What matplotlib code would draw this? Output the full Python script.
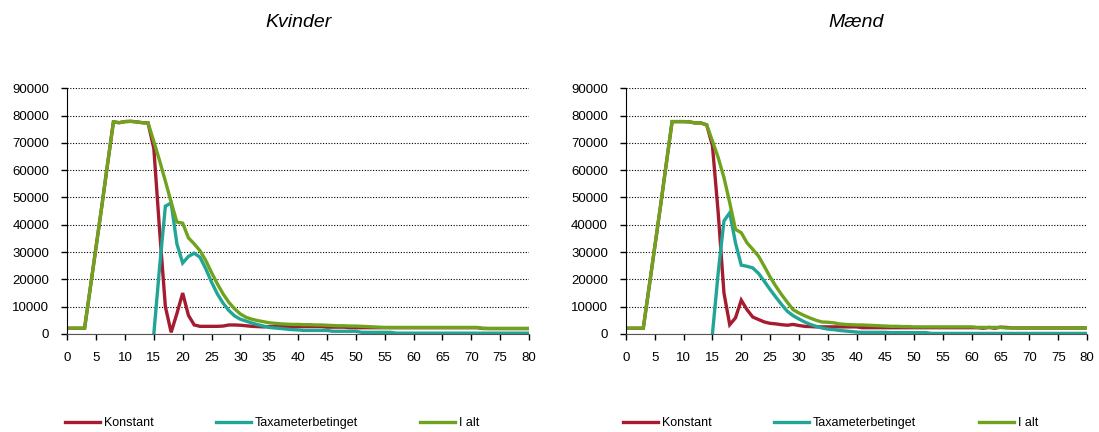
import numpy as np
import matplotlib
matplotlib.use('Agg')
import matplotlib.pyplot as plt

plt.rcParams['font.family'] = ['Liberation Sans', 'DejaVu Sans']

ages = list(range(0, 81))

# Kvinder
kv_konstant = ([2100] * 4 + [17000, 32000, 47000, 62500, 77700, 77400, 77800, 77900, 77700, 77400, 77300,
                             68000, 38000, 10000, 600, 7500, 15000, 6800, 3300, 2800, 2800, 2800, 2800, 2900,
                             3300, 3300, 3200, 3000, 2800, 2700, 2600]
               + [2700] * 10 + [2500] * 4 + [2300] * 23 + [2000] * 9)
kv_taxameter = ([np.nan] * 15 + [0, 24500, 46800, 48000, 33000, 26000, 28400, 29600, 28100, 23900, 19000,
                                 14700, 11300, 8600, 6600, 5400, 4700, 4000, 3400, 2900, 2400, 2200, 2000,
                                 1800, 1600, 1500]
                + [1300] * 5 + [1000] * 5 + [600] * 6 + [300] * 24)
kv_ialt = ([2100] * 4 + [17000, 32000, 47000, 62500, 77700, 77400, 77800, 77900, 77700, 77400, 77300,
                         70500, 63500, 56000, 48300, 41000, 40600, 35200, 33000, 30500, 26900, 22500, 18400,
                         14700, 11600, 9200, 7300, 6100, 5400, 4900, 4500, 4100, 3900, 3700, 3600, 3500,
                         3500, 3400, 3400, 3300, 3300, 3200, 3100, 3000, 3000, 2900, 2900, 2800, 2700,
                         2600, 2500]
           + [2400] * 17 + [2100] + [2000] * 8)

# Mænd
m_konstant = ([2100] * 4 + [17000, 32000, 47000, 62500, 77800, 77800, 77800, 77700, 77300, 77300, 76600,
                            69000, 44400, 15000, 3400, 5900, 12400, 8900, 6200, 5300, 4400, 3900, 3700,
                            3400, 3200, 3500, 3100, 2800, 2700]
              + [2600] * 8 + [2300] * 21 + [2100, 2400, 2100, 2500, 2400] + [2200] * 14)
m_taxameter = ([np.nan] * 15 + [0, 22400, 41400, 44400, 33400, 25200, 24800, 24200, 22200, 19300, 16300,
                                13500, 10800, 8300, 6700, 5500, 4400, 3500, 2800, 2200, 1800, 1600, 1300,
                                1100, 900, 700]
               + [600] * 5 + [500] * 7 + [200] * 28)
m_ialt = ([2100] * 4 + [17000, 32000, 47000, 62500, 77800, 77800, 77800, 77700, 77300, 77300, 76600,
                        70700, 64600, 57300, 48100, 38300, 37100, 33400, 31000, 28500, 24800, 20900, 17500,
                        14400, 11600, 8900, 7700, 6700, 5800, 5000, 4400, 4300, 4100, 3700, 3500, 3400,
                        3300, 3300, 3200, 3100, 3000, 2900, 2800, 2800, 2700, 2700]
          + [2600] * 11 + [2400] * 5 + [2200] * 15)

labels = ['Konstant', 'Taxameterbetinget', 'I alt']
colors = ['#A51C30', '#20A596', '#6FA31E']

fig = plt.figure(figsize=(10.99, 4.32), dpi=100)
ax1 = fig.add_axes([0.0612, 0.2269, 0.4201, 0.5687])
ax2 = fig.add_axes([0.5696, 0.2269, 0.4195, 0.5687])


def draw(ax, title, series):
    for vals, lab, col in zip(series, labels, colors):
        ax.plot(ages, vals, color=col, linewidth=2.4, label=lab, solid_joinstyle='miter')
    ax.set_xlim(0, 80)
    ax.set_ylim(0, 90000)
    ax.set_xticks(range(0, 81, 5))
    ax.set_yticks(range(0, 90001, 10000))
    ax.tick_params(direction='out', length=4, width=1, labelsize=9.5, pad=9, colors='black')
    ax.grid(axis='y', linestyle=(0, (1, 1.5)), color='black', linewidth=0.8)
    ax.set_axisbelow(True)
    for s in ['top', 'right']:
        ax.spines[s].set_visible(False)
    ax.spines['left'].set_color('black')
    ax.spines['bottom'].set_color('#555555')
    ax.set_title(title, fontsize=14, style='italic', y=1.215)
    ax.legend(loc='center', bbox_to_anchor=(0.444, -0.362), ncol=3, frameon=False, fontsize=9,
              handlelength=2.8, handletextpad=0.3, columnspacing=5.0)


draw(ax1, 'Kvinder', [kv_konstant, kv_taxameter, kv_ialt])
draw(ax2, 'Mænd', [m_konstant, m_taxameter, m_ialt])

plt.savefig('out.png', dpi=100)
